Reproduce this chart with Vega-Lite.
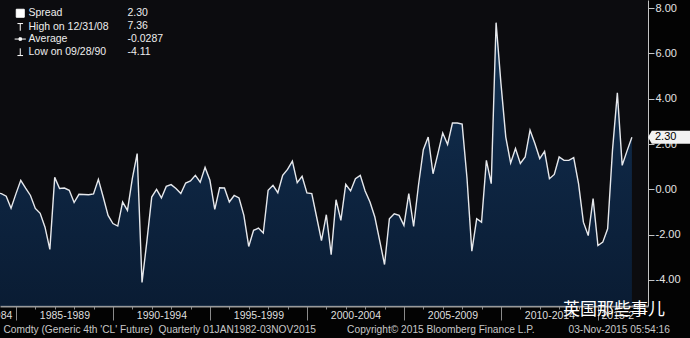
{
  "$schema": "https://vega.github.io/schema/vega-lite/v6.json",
  "width": 648,
  "height": 306,
  "autosize": {"type": "none"},
  "padding": {"left": 0, "top": 0, "right": 42, "bottom": 32},
  "background": "#030303",
  "view": {"fill": "#0c0c0f", "stroke": null},
  "config": {"font": "Liberation Sans"},
  "title": {"text": "英国那些事儿", "orient": "bottom", "anchor": "end", "frame": "group", "font": "Noto Sans CJK SC", "fontSize": 17, "fontWeight": "normal", "color": "#ffffff", "dx": 17, "dy": -32, "offset": 0},
  "datasets": {
    "spread": [
      {"t": 1983.00, "spread": -0.15}, {"t": 1983.25, "spread": -0.19}, {"t": 1983.50, "spread": -0.30}, {"t": 1983.75, "spread": -0.83},
      {"t": 1984.00, "spread": -0.20}, {"t": 1984.25, "spread": 0.40}, {"t": 1984.50, "spread": 0.05}, {"t": 1984.75, "spread": -0.27},
      {"t": 1985.00, "spread": -0.84}, {"t": 1985.25, "spread": -1.06}, {"t": 1985.50, "spread": -1.67}, {"t": 1985.75, "spread": -2.65},
      {"t": 1986.00, "spread": 0.53}, {"t": 1986.25, "spread": 0.04}, {"t": 1986.50, "spread": 0.06}, {"t": 1986.75, "spread": -0.04},
      {"t": 1987.00, "spread": -0.58}, {"t": 1987.25, "spread": -0.22}, {"t": 1987.50, "spread": -0.23}, {"t": 1987.75, "spread": -0.24},
      {"t": 1988.00, "spread": -0.20}, {"t": 1988.25, "spread": 0.44}, {"t": 1988.50, "spread": -0.34}, {"t": 1988.75, "spread": -1.15},
      {"t": 1989.00, "spread": -1.51}, {"t": 1989.25, "spread": -1.62}, {"t": 1989.50, "spread": -0.56}, {"t": 1989.75, "spread": -0.93},
      {"t": 1990.00, "spread": 0.47}, {"t": 1990.25, "spread": 1.58}, {"t": 1990.50, "spread": -4.11}, {"t": 1990.75, "spread": -2.30},
      {"t": 1991.00, "spread": -0.34}, {"t": 1991.25, "spread": 0.00}, {"t": 1991.50, "spread": -0.38}, {"t": 1991.75, "spread": 0.13},
      {"t": 1992.00, "spread": 0.21}, {"t": 1992.25, "spread": 0.04}, {"t": 1992.50, "spread": -0.18}, {"t": 1992.75, "spread": 0.28},
      {"t": 1993.00, "spread": 0.37}, {"t": 1993.25, "spread": 0.62}, {"t": 1993.50, "spread": 0.32}, {"t": 1993.75, "spread": 0.97},
      {"t": 1994.00, "spread": 0.40}, {"t": 1994.25, "spread": -0.88}, {"t": 1994.50, "spread": 0.07}, {"t": 1994.75, "spread": 0.06},
      {"t": 1995.00, "spread": -0.56}, {"t": 1995.25, "spread": -0.27}, {"t": 1995.50, "spread": -0.38}, {"t": 1995.75, "spread": -1.15},
      {"t": 1996.00, "spread": -2.52}, {"t": 1996.25, "spread": -1.81}, {"t": 1996.50, "spread": -1.71}, {"t": 1996.75, "spread": -1.93},
      {"t": 1997.00, "spread": -0.04}, {"t": 1997.25, "spread": 0.18}, {"t": 1997.50, "spread": -0.15}, {"t": 1997.75, "spread": 0.62},
      {"t": 1998.00, "spread": 0.88}, {"t": 1998.25, "spread": 1.25}, {"t": 1998.50, "spread": 0.30}, {"t": 1998.75, "spread": 0.58},
      {"t": 1999.00, "spread": -0.16}, {"t": 1999.25, "spread": -0.19}, {"t": 1999.50, "spread": -1.22}, {"t": 1999.75, "spread": -2.26},
      {"t": 2000.00, "spread": -1.12}, {"t": 2000.25, "spread": -2.88}, {"t": 2000.50, "spread": -0.46}, {"t": 2000.75, "spread": -1.37},
      {"t": 2001.00, "spread": 0.22}, {"t": 2001.25, "spread": -0.07}, {"t": 2001.50, "spread": 0.47}, {"t": 2001.75, "spread": 0.62},
      {"t": 2002.00, "spread": -0.07}, {"t": 2002.25, "spread": -0.56}, {"t": 2002.50, "spread": -1.22}, {"t": 2002.75, "spread": -2.26},
      {"t": 2003.00, "spread": -3.32}, {"t": 2003.25, "spread": -1.30}, {"t": 2003.50, "spread": -1.08}, {"t": 2003.75, "spread": -1.15},
      {"t": 2004.00, "spread": -1.59}, {"t": 2004.25, "spread": -0.19}, {"t": 2004.50, "spread": -1.64}, {"t": 2004.75, "spread": 0.18},
      {"t": 2005.00, "spread": 1.75}, {"t": 2005.25, "spread": 2.31}, {"t": 2005.50, "spread": 0.69}, {"t": 2005.75, "spread": 1.58},
      {"t": 2006.00, "spread": 2.49}, {"t": 2006.25, "spread": 1.98}, {"t": 2006.50, "spread": 2.93}, {"t": 2006.75, "spread": 2.93},
      {"t": 2007.00, "spread": 2.88}, {"t": 2007.25, "spread": 0.50}, {"t": 2007.50, "spread": -2.73}, {"t": 2007.75, "spread": -1.30},
      {"t": 2008.00, "spread": -1.45}, {"t": 2008.25, "spread": 1.28}, {"t": 2008.50, "spread": 0.25}, {"t": 2008.75, "spread": 7.36},
      {"t": 2009.00, "spread": 4.68}, {"t": 2009.25, "spread": 2.31}, {"t": 2009.50, "spread": 1.16}, {"t": 2009.75, "spread": 1.80},
      {"t": 2010.00, "spread": 1.14}, {"t": 2010.25, "spread": 1.43}, {"t": 2010.50, "spread": 2.61}, {"t": 2010.75, "spread": 2.02},
      {"t": 2011.00, "spread": 1.36}, {"t": 2011.25, "spread": 1.68}, {"t": 2011.50, "spread": 0.47}, {"t": 2011.75, "spread": 0.66},
      {"t": 2012.00, "spread": 1.43}, {"t": 2012.25, "spread": 1.28}, {"t": 2012.50, "spread": 1.28}, {"t": 2012.75, "spread": 1.40},
      {"t": 2013.00, "spread": 0.25}, {"t": 2013.25, "spread": -1.45}, {"t": 2013.50, "spread": -2.04}, {"t": 2013.75, "spread": -0.41},
      {"t": 2014.00, "spread": -2.48}, {"t": 2014.25, "spread": -2.33}, {"t": 2014.50, "spread": -1.74}, {"t": 2014.75, "spread": 1.73},
      {"t": 2015.00, "spread": 4.26}, {"t": 2015.25, "spread": 1.06}, {"t": 2015.50, "spread": 1.70}, {"t": 2015.75, "spread": 2.30}
    ],
    "legend": [
      {"item": "Spread", "val": "2.30"},
      {"item": "High on 12/31/08", "val": "7.36"},
      {"item": "Average", "val": "-0.0287"},
      {"item": "Low on 09/28/90", "val": "-4.11"}
    ]
  },
  "layer": [
    {
      "data": {"name": "spread"},
      "mark": {
        "type": "area",
        "clip": true,
        "fill": {"gradient": "linear", "x1": 0, "y1": 0, "x2": 0, "y2": 1, "stops": [{"offset": 0, "color": "#16446f"}, {"offset": 0.5, "color": "#0f3159"}, {"offset": 1, "color": "#092343"}]},
        "line": {"color": "#e6e8ec", "strokeWidth": 1.4}
      },
      "encoding": {
        "x": {
          "field": "t", "type": "quantitative",
          "scale": {"domain": [1983.18, 2016.58], "nice": false, "zero": false},
          "axis": {
            "values": [1983.79, 1984, 1985, 1986, 1986.5, 1987, 1988, 1989, 1990, 1991, 1991.5, 1992, 1993, 1994, 1995, 1996, 1996.5, 1997, 1998, 1999, 2000, 2001, 2001.5, 2002, 2003, 2004, 2005, 2006, 2006.5, 2007, 2008, 2009, 2010, 2011, 2011.5, 2012, 2013, 2014, 2015, 2016],
            "labelExpr": "datum.value < 1984 ? '1980-1984' : datum.value == 2015 ? '2015-2' : (datum.value % 5 == 1.5 ? (datum.value - 1.5) + '-' + (datum.value + 2.5) : '')",
            "labelAlign": {"condition": {"test": "datum.value < 1984", "value": "right"}, "value": "center"},
            "labelFlush": false, "labelOverlap": false, "labelBound": false,
            "labelFontSize": 10.5, "labelColor": "#dedede", "labelBaseline": "top", "labelPadding": 1,
            "tickSize": {"condition": {"test": "datum.value % 5 == 4", "value": 14}, "value": 3},
            "tickOpacity": {"condition": {"test": "datum.value % 1 != 0", "value": 0}, "value": 1},
            "tickColor": "#8a8a8a", "tickWidth": 1,
            "domainColor": "#9a9a9a", "domainWidth": 2,
            "grid": false,
            "title": "Comdty (Generic 4th 'CL' Future) \u00a0Quarterly 01JAN1982-03NOV2015\u00a0\u00a0\u00a0\u00a0\u00a0\u00a0\u00a0\u00a0\u00a0\u00a0\u00a0Copyright© 2015 Bloomberg Finance L.P.\u00a0\u00a0\u00a0\u00a0\u00a0\u00a0\u00a0\u00a0\u00a0\u00a0\u00a0\u00a003-Nov-2015 05:54:16",
            "titleFontSize": 10.2, "titleColor": "#c8c8c8", "titleFontWeight": "normal", "titleAnchor": "start", "titleAlign": "left", "titleBaseline": "top", "titleX": 3, "titleY": 18
          }
        },
        "y": {
          "field": "spread", "type": "quantitative",
          "scale": {"domain": [-5.15, 8.36], "nice": false, "zero": false},
          "axis": {
            "orient": "right",
            "values": [-4, -2, 0, 2, 4, 6, 8],
            "format": ".2f",
            "labelExpr": "replace(datum.label, '\u2212', '-')",
            "tickSize": 6,
            "tickColor": "#c4c4c4", "domainColor": "#c4c4c4", "domainWidth": 1,
            "labelColor": "#e4e4e4", "labelFontSize": 11, "labelPadding": 1,
            "labelFlush": false, "labelOverlap": false,
            "grid": false, "title": null
          }
        },
        "y2": {"datum": -5.15}
      }
    },
    {
      "data": {"name": "spread"},
      "transform": [{"joinaggregate": [{"op": "max", "field": "t", "as": "tmax"}]}, {"filter": "datum.t == datum.tmax"}],
      "mark": {"type": "point", "shape": "M0,0L0.35,-0.6H4V0.6H0.35Z", "size": 467, "filled": true, "fill": "#f2f2f2", "opacity": 1, "strokeWidth": 0},
      "encoding": {"x": {"value": "width"}, "y": {"field": "spread", "type": "quantitative"}}
    },
    {
      "data": {"name": "spread"},
      "transform": [{"joinaggregate": [{"op": "max", "field": "t", "as": "tmax"}]}, {"filter": "datum.t == datum.tmax"}],
      "mark": {"type": "text", "align": "left", "baseline": "middle", "dx": 7, "fontSize": 11, "color": "#000000"},
      "encoding": {"x": {"value": "width"}, "y": {"field": "spread", "type": "quantitative"}, "text": {"field": "spread", "type": "quantitative", "format": ".2f"}}
    },
    {
      "data": {"name": "legend"},
      "mark": {"type": "point", "opacity": 0, "filled": true},
      "encoding": {
        "shape": {
          "field": "item", "type": "nominal",
          "scale": {"domain": ["Spread", "High on 12/31/08", "Average", "Low on 09/28/90"], "range": ["square", "M-0.7,-0.9H0.7M0,-0.9V0.9", "M-1.4,0H1.4M-0.3,-0.3H0.3V0.3H-0.3Z", "M0,-0.9V0.9M-0.7,0.9H0.7"]},
          "legend": {
            "orient": "none", "legendX": 15, "legendY": 8, "title": null, "padding": 0, "offset": 0,
            "labelFontSize": 10.5, "labelColor": "#eeeeee", "labelOffset": 3, "rowPadding": 0.9,
            "symbolSize": 64, "symbolFillColor": "#ffffff", "symbolStrokeColor": "#ffffff", "symbolStrokeWidth": 1, "symbolOpacity": 1,
            "encode": {"symbols": {"update": {"opacity": {"value": 1}, "fill": {"value": "#ffffff"}, "stroke": {"value": "#ffffff"}}}}
          }
        },
        "color": {
          "field": "val", "type": "nominal",
          "scale": {"domain": ["2.30", "7.36", "-0.0287", "-4.11"], "range": ["#ffffff", "#ffffff", "#ffffff", "#ffffff"]},
          "legend": {
            "orient": "none", "legendX": 117, "legendY": 8, "title": null, "padding": 0, "offset": 0,
            "labelFontSize": 10.5, "labelColor": "#eeeeee", "labelOffset": 0, "rowPadding": 1.9,
            "symbolSize": 0, "symbolOpacity": 0, "symbolStrokeWidth": 0
          }
        }
      }
    }
  ]
}
